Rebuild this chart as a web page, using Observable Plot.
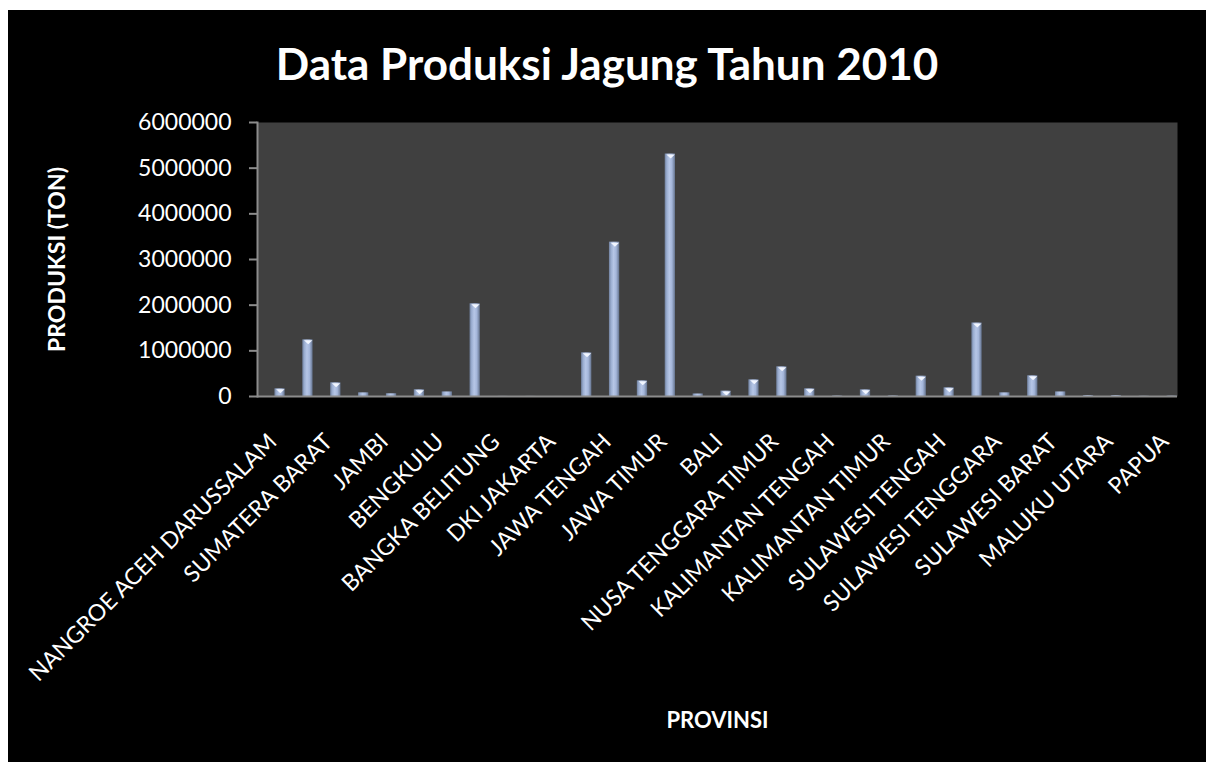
<!DOCTYPE html>
<html>
<head>
<meta charset="utf-8">
<script src="https://cdn.jsdelivr.net/npm/d3@7"></script>
<script src="https://cdn.jsdelivr.net/npm/@observablehq/plot@0.6"></script>
<style>
  html, body { margin: 0; padding: 0; background: #ffffff; }
  #wrap { position: absolute; left: 8px; top: 10px; width: 1198px; height: 752px; background: #000; overflow: hidden; }
  #title { position: absolute; left: 0; top: 31px; width: 1198px; text-align: center; color: #fff;
           font-family: Lato, "Open Sans", sans-serif; font-weight: bold; font-size: 44px; line-height: 44px; }
  #chart { position: absolute; left: 0; top: 92px; }
</style>
</head>
<body>
<div id="wrap">
  <div id="title">Data Produksi Jagung Tahun 2010</div>
  <div id="chart"></div>
</div>
<script>
const provinces = [
  "NANGROE ACEH DARUSSALAM", "SUMATERA UTARA", "SUMATERA BARAT", "RIAU", "JAMBI",
  "SUMATERA SELATAN", "BENGKULU", "LAMPUNG", "BANGKA BELITUNG", "KEPULAUAN RIAU",
  "DKI JAKARTA", "JAWA BARAT", "JAWA TENGAH", "DI YOGYAKARTA", "JAWA TIMUR",
  "BANTEN", "BALI", "NUSA TENGGARA BARAT", "NUSA TENGGARA TIMUR", "KALIMANTAN BARAT",
  "KALIMANTAN TENGAH", "KALIMANTAN SELATAN", "KALIMANTAN TIMUR", "SULAWESI UTARA", "SULAWESI TENGAH",
  "SULAWESI SELATAN", "SULAWESI TENGGARA", "GORONTALO", "SULAWESI BARAT", "MALUKU",
  "MALUKU UTARA", "PAPUA BARAT", "PAPUA"
];
const production = [
  168000, 1240000, 300000, 80000, 60000,
  147000, 100000, 2030000, 2000, 2000,
  500, 956000, 3380000, 343000, 5310000,
  55000, 118000, 365000, 650000, 168000,
  10000, 146000, 12000, 445000, 190000,
  1610000, 80000, 453000, 100000, 20000,
  20000, 5000, 8000
];
const xTickLabels = [
  "NANGROE ACEH DARUSSALAM", "SUMATERA BARAT", "JAMBI", "BENGKULU", "BANGKA BELITUNG",
  "DKI JAKARTA", "JAWA TENGAH", "JAWA TIMUR", "BALI", "NUSA TENGGARA TIMUR",
  "KALIMANTAN TENGAH", "KALIMANTAN TIMUR", "SULAWESI TENGAH", "SULAWESI TENGGARA",
  "SULAWESI BARAT", "MALUKU UTARA", "PAPUA"
];
const yTicks = [0, 1000000, 2000000, 3000000, 4000000, 5000000, 6000000];

const data = provinces.map((p, i) => ({province: p, value: production[i]}));

// flat, downward-pointing bevel highlight at the top of each bar
const bevel = {
  draw(context) {
    context.moveTo(-4.2, 0);
    context.lineTo(4.2, 0);
    context.lineTo(0, 4);
    context.closePath();
  }
};

const plot = Plot.plot({
  width: 1198,
  height: 660,
  marginLeft: 249,
  marginRight: 29,
  marginTop: 20,
  marginBottom: 366,
  style: {background: "transparent", color: "#ffffff", fontFamily: "Lato, 'Open Sans', sans-serif", fontSize: "23px"},
  x: {domain: provinces, padding: 0, round: false},
  y: {domain: [0, 6000000]},
  marks: [
    Plot.frame({fill: "#404040", stroke: null}),
    Plot.barY(data, {x: "province", y: "value", fill: "url(#barGrad)", insetLeft: 17.4, insetRight: 0.2}),
    Plot.dot(data.filter(d => d.value > 100000), {x: "province", y: "value", symbol: bevel, dx: 8.9, dy: 0.5, fill: "#f2f6ff", stroke: null}),
    Plot.ruleY([0], {stroke: "#8c8c8c", strokeWidth: 2}),
    Plot.frame({anchor: "left", stroke: "#8c8c8c", strokeWidth: 2}),
    Plot.axisY({ticks: yTicks, tickSize: 8, tickPadding: 18, tickFormat: d => String(d), stroke: "#8c8c8c", strokeWidth: 2,
                label: "PRODUKSI (TON)", labelAnchor: "center", labelArrow: "none", labelOffset: 209}),
    Plot.axisX({ticks: xTickLabels, tickSize: 0, tickPadding: 0, tickRotate: -45, textAnchor: "end", lineAnchor: "top",
                dx: -5, dy: 35, fontSize: "23px",
                label: "PROVINSI", labelAnchor: "center", labelArrow: "none", labelOffset: 331})
  ]
});

const svg = d3.select(plot);
svg.insert("defs", ":first-child").html(`
  <linearGradient id="barGrad" x1="0" x2="1" y1="0" y2="0">
    <stop offset="0%" stop-color="#6f7f9c"/>
    <stop offset="20%" stop-color="#9aadd0"/>
    <stop offset="45%" stop-color="#b6c6e6"/>
    <stop offset="70%" stop-color="#a4b6da"/>
    <stop offset="100%" stop-color="#65748f"/>
  </linearGradient>`);
svg.selectAll("[aria-label='x-axis label'] text").attr("font-weight", "bold").attr("font-size", "22px");
svg.selectAll("[aria-label='y-axis label'] text").attr("font-weight", "bold").attr("font-size", "23px");
document.getElementById("chart").appendChild(plot);
</script>
</body>
</html>
